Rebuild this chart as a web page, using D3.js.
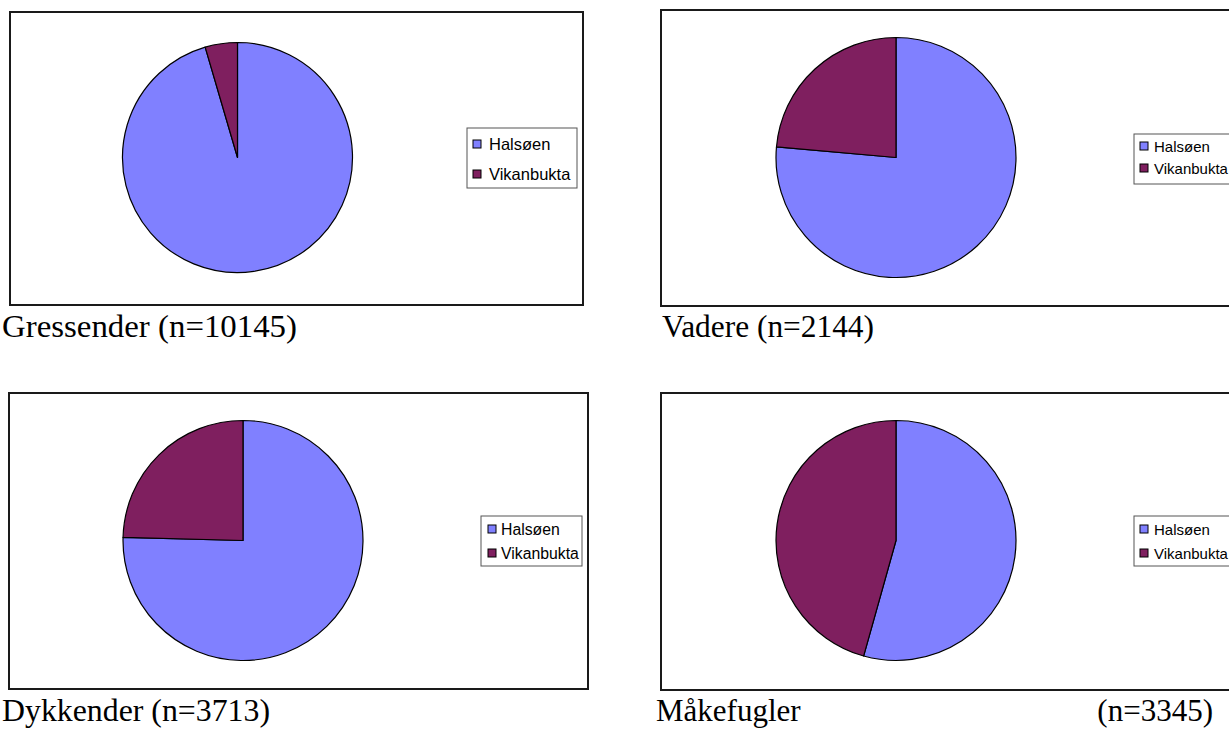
<!DOCTYPE html>
<html>
<head>
<meta charset="utf-8">
<script src="https://cdn.jsdelivr.net/npm/d3@7"></script>
<style>
  html, body { margin: 0; padding: 0; background: #fff; overflow: hidden; }
  svg { display: block; }
</style>
</head>
<body>
<svg id="chart" width="1229" height="729"></svg>
<script>
// Bird counts per group, split by locality
const groups      = ["Gressender", "Vadere", "Dykkender", "Måkefugler"];
const seriesNames = ["Halsøen", "Vikanbukta"];
const halsoen     = [9685, 1638, 2800, 1818];
const vikanbukta  = [460,  506,  913,  1527];
const colors      = ["#8080ff", "#7f1f5f"];

// Panel layout (frame, pie, legend, caption)
const panels = [
  { fx: 10,  fy: 12,  fw: 573, fh: 293, cx: 237.5, cy: 157.5, r: 115,
    lx: 467, ly: 128, lw: 110, lh: 60, rows: [144, 174], sx: 473, tx: 489, lf: 16.5,
    capX: 2, capY: 337, capW: 295, split: false },
  { fx: 661, fy: 10,  fw: 620, fh: 296, cx: 896, cy: 157.5, r: 120,
    lx: 1134, ly: 134, lw: 110, lh: 50, rows: [146, 168], sx: 1140, tx: 1154, lf: 15,
    capX: 662, capY: 337, capW: 212, split: false },
  { fx: 9,   fy: 393, fw: 579, fh: 296, cx: 243, cy: 540.5, r: 120,
    lx: 481, ly: 516, lw: 101, lh: 50, rows: [529, 553], sx: 488, tx: 501, lf: 15.8,
    capX: 2, capY: 721, capW: 268, split: false },
  { fx: 661, fy: 393, fw: 620, fh: 297, cx: 896, cy: 540.5, r: 120,
    lx: 1134, ly: 516, lw: 110, lh: 50, rows: [529, 553], sx: 1140, tx: 1154, lf: 15,
    capX: 656, capY: 721, split: true, capRight: 1213 }
];

const svg = d3.select("#chart");
const pie = d3.pie().sort(null).value(d => d.value);
const color = d3.scaleOrdinal().domain(seriesNames).range(colors);
const capFont = "Liberation Serif, 'Times New Roman', serif";

groups.forEach((name, i) => {
  const p = panels[i];
  const data = seriesNames.map((s, k) => ({ name: s, value: [halsoen, vikanbukta][k][i] }));
  const total = d3.sum(data, d => d.value);

  const g = svg.append("g");

  // chart frame
  g.append("rect")
    .attr("x", p.fx).attr("y", p.fy)
    .attr("width", p.fw).attr("height", p.fh)
    .attr("fill", "#fff")
    .attr("stroke", "#1a1a1a")
    .attr("stroke-width", 2);

  // pie slices, clockwise from 12 o'clock
  const arc = d3.arc().innerRadius(0).outerRadius(p.r);
  g.append("g")
    .attr("transform", `translate(${p.cx},${p.cy})`)
    .selectAll("path")
    .data(pie(data))
    .join("path")
    .attr("d", arc)
    .attr("fill", d => color(d.data.name))
    .attr("stroke", "#000")
    .attr("stroke-width", 1.2)
    .attr("stroke-linejoin", "round");

  // legend
  const lg = g.append("g");
  lg.append("rect")
    .attr("x", p.lx).attr("y", p.ly)
    .attr("width", p.lw).attr("height", p.lh)
    .attr("fill", "#fff")
    .attr("stroke", "#555")
    .attr("stroke-width", 1);
  seriesNames.forEach((s, k) => {
    const yc = p.rows[k];
    lg.append("rect")
      .attr("x", p.sx).attr("y", yc - 4)
      .attr("width", 8).attr("height", 8)
      .attr("fill", color(s))
      .attr("stroke", "#000")
      .attr("stroke-width", 1);
    lg.append("text")
      .attr("x", p.tx).attr("y", yc + 6)
      .attr("font-family", "Liberation Sans, Arial, sans-serif")
      .attr("font-size", p.lf)
      .attr("fill", "#000")
      .text(s);
  });

  // caption
  if (p.split) {
    g.append("text")
      .attr("x", p.capX).attr("y", p.capY)
      .attr("font-family", capFont).attr("font-size", 31)
      .text(name);
    g.append("text")
      .attr("x", p.capRight).attr("y", p.capY)
      .attr("text-anchor", "end")
      .attr("font-family", capFont).attr("font-size", 31)
      .text(`(n=${total})`);
  } else {
    g.append("text")
      .attr("x", p.capX).attr("y", p.capY)
      .attr("font-family", capFont).attr("font-size", 31)
      .attr("textLength", p.capW)
      .attr("lengthAdjust", "spacingAndGlyphs")
      .text(`${name} (n=${total})`);
  }
});
</script>
</body>
</html>
